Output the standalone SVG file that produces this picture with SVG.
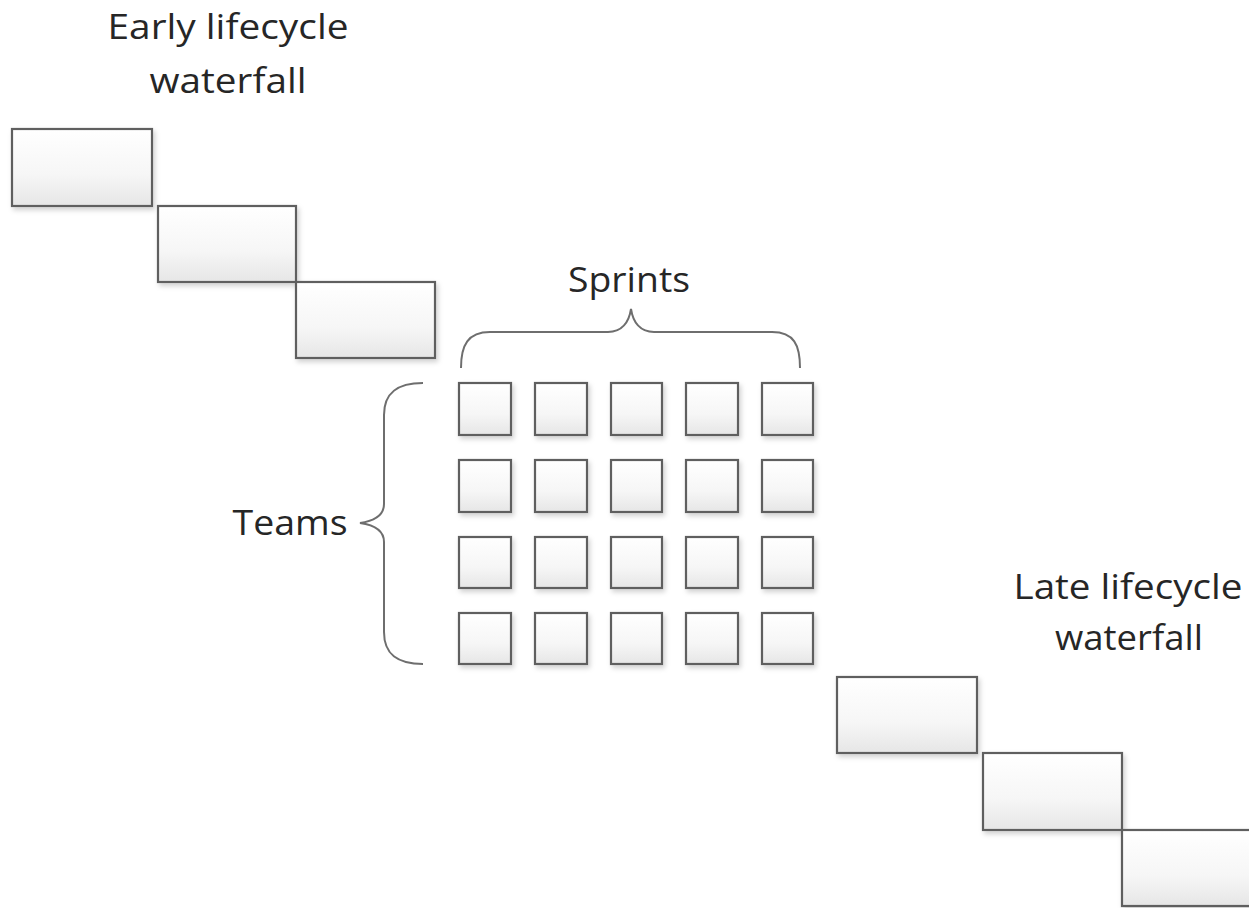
<svg xmlns="http://www.w3.org/2000/svg" width="1249" height="908" viewBox="0 0 1249 908">
<defs>
<linearGradient id="g" x1="0" y1="0" x2="0" y2="1">
<stop offset="0" stop-color="#ffffff"/>
<stop offset="0.6" stop-color="#f6f6f6"/>
<stop offset="1" stop-color="#e6e6e6"/>
</linearGradient>
<filter id="sh" x="-20%" y="-20%" width="140%" height="150%">
<feDropShadow dx="2" dy="3" stdDeviation="2.5" flood-color="#000" flood-opacity="0.18"/>
</filter>
</defs>
<style>
.box{fill:url(#g);stroke:#5f5f5f;stroke-width:2.2;filter:url(#sh)}
.brace{fill:none;stroke:#6e6e6e;stroke-width:2}
.lbl{font-family:"Open Sans","Liberation Sans",sans-serif;font-size:34px;fill:#262626;text-anchor:middle}
</style>
<rect width="1249" height="908" fill="#ffffff"/>
<g id="early-label">
<text class="lbl" x="228" y="39" textLength="241" lengthAdjust="spacingAndGlyphs">Early lifecycle</text>
<text class="lbl" x="228" y="93" textLength="157" lengthAdjust="spacingAndGlyphs">waterfall</text>
</g>
<g id="early-1"><rect class="box" x="12" y="129" width="140" height="77"/></g>
<g id="early-2"><rect class="box" x="158" y="206" width="138" height="76"/></g>
<g id="early-3"><rect class="box" x="296" y="282" width="139" height="76"/></g>
<g id="sprints-label"><text class="lbl" x="629" y="292" textLength="122" lengthAdjust="spacingAndGlyphs">Sprints</text></g>
<g id="teams-label"><text class="lbl" x="290" y="535" textLength="115" lengthAdjust="spacingAndGlyphs">Teams</text></g>
<g id="late-label">
<text class="lbl" x="1128" y="599" textLength="229" lengthAdjust="spacingAndGlyphs">Late lifecycle</text>
<text class="lbl" x="1129" y="650" textLength="148" lengthAdjust="spacingAndGlyphs">waterfall</text>
</g>
<g id="connectors">
<path class="brace" d="M461,368 C461,345 468,332 490,332 L608,332 C622,332 629,322 631,309 C633,322 640,332 654,332 L772,332 C794,332 800,345 800,368"/>
<path class="brace" d="M423,383 C398,383 384,392 384,415 L384,504 C384,515 374,521 360,523 C374,525 384,531 384,542 L384,632 C384,655 398,664 423,664"/>
</g>
<g id="grid">
<g id="s-1-1"><rect class="box" x="459" y="383" width="52" height="52"/></g>
<g id="s-1-2"><rect class="box" x="535" y="383" width="52" height="52"/></g>
<g id="s-1-3"><rect class="box" x="611" y="383" width="51" height="52"/></g>
<g id="s-1-4"><rect class="box" x="686" y="383" width="52" height="52"/></g>
<g id="s-1-5"><rect class="box" x="762" y="383" width="51" height="52"/></g>
<g id="s-2-1"><rect class="box" x="459" y="460" width="52" height="52"/></g>
<g id="s-2-2"><rect class="box" x="535" y="460" width="52" height="52"/></g>
<g id="s-2-3"><rect class="box" x="611" y="460" width="51" height="52"/></g>
<g id="s-2-4"><rect class="box" x="686" y="460" width="52" height="52"/></g>
<g id="s-2-5"><rect class="box" x="762" y="460" width="51" height="52"/></g>
<g id="s-3-1"><rect class="box" x="459" y="537" width="52" height="51"/></g>
<g id="s-3-2"><rect class="box" x="535" y="537" width="52" height="51"/></g>
<g id="s-3-3"><rect class="box" x="611" y="537" width="51" height="51"/></g>
<g id="s-3-4"><rect class="box" x="686" y="537" width="52" height="51"/></g>
<g id="s-3-5"><rect class="box" x="762" y="537" width="51" height="51"/></g>
<g id="s-4-1"><rect class="box" x="459" y="613" width="52" height="51"/></g>
<g id="s-4-2"><rect class="box" x="535" y="613" width="52" height="51"/></g>
<g id="s-4-3"><rect class="box" x="611" y="613" width="51" height="51"/></g>
<g id="s-4-4"><rect class="box" x="686" y="613" width="52" height="51"/></g>
<g id="s-4-5"><rect class="box" x="762" y="613" width="51" height="51"/></g>
</g>
<g id="late-1"><rect class="box" x="837" y="677" width="140" height="76"/></g>
<g id="late-2"><rect class="box" x="983" y="753" width="139" height="77"/></g>
<g id="late-3"><rect class="box" x="1122" y="830" width="140" height="76"/></g>
</svg>
